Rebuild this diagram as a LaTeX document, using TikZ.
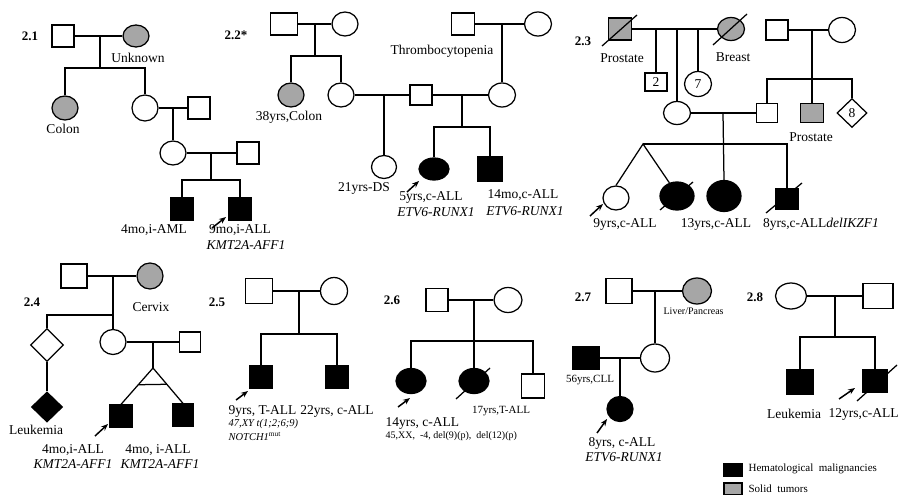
\documentclass[tikz,border=0pt]{standalone}
\usepackage{fontspec}
\setmainfont{Liberation Serif}
\usetikzlibrary{shapes.geometric,arrows.meta,calc}
\definecolor{solidgray}{RGB}{166,166,166}
\begin{document}
\begin{tikzpicture}[x=1pt,y=-1pt,line width=1.25pt,
  male/.style={draw,rectangle,inner sep=0pt,minimum width=22pt,minimum height=22pt},
  fem/.style={draw,ellipse,inner sep=0pt,minimum width=26pt,minimum height=24pt},
  dia/.style={draw,diamond,inner sep=0pt,minimum width=32pt,minimum height=32pt},
  hem/.style={fill=black},
  sol/.style={fill=solidgray},
  lab/.style={inner sep=0pt,font=\fontsize{13.5}{15}\selectfont},
  labi/.style={inner sep=0pt,font=\itshape\fontsize{13.5}{15}\selectfont},
  small/.style={inner sep=0pt,font=\fontsize{10.5}{12}\selectfont},
  smalli/.style={inner sep=0pt,font=\itshape\fontsize{10.5}{12}\selectfont},
  fam/.style={inner sep=0pt,font=\bfseries\fontsize{13}{15}\selectfont},
  prob/.style={-{Stealth[length=7pt,width=5.5pt]},line width=1.5pt}]
\useasboundingbox (0,0) rectangle (900,495);

% ---------------- 2.1
\node[fam] (f1) at (30,36) {2.1};
\node[male] (s11) at (63,36) {};
\node[fem,sol,minimum height=22pt] (c11) at (136,36) {};
\node[lab] (l11) at (138,58) {Unknown};
\draw (s11) -- (c11);
\coordinate (m11) at (100,36);
\coordinate (t11) at (100,68);
\draw (m11) -- (t11);
\node[fem,sol] (d11) at (65,108) {};
\node[fem,minimum height=26pt] (d12) at (145,108) {};
\draw (d11.north) |- (t11) -| (d12.north);
\node[lab] (l12) at (63,129) {Colon};
\node[male] (s12) at (199,108) {};
\draw (d12) -- (s12);
\node[fem] (d13) at (173,153) {};
\coordinate (m12) at (173,108);
\draw (m12) -- (d13.north);
\node[male] (s13) at (248,153) {};
\draw (d13) -- (s13);
\coordinate (m13) at (211,153);
\coordinate (t13) at (211,180);
\draw (m13) -- (t13);
\node[male,hem] (k11) at (182,209) {};
\node[male,hem] (k12) at (240,209) {};
\draw (k11.north) |- (t13) -| (k12.north);
\node[lab] (l13) at (154,230) {4mo,i-AML};
\node[lab] (l14) at (240,230) {9mo,i-ALL};
\node[labi] (l15) at (246,245) {KMT2A-AFF1};
\draw[prob] ([shift={(-28,19)}]k12.center) -- ([shift={(-14,8)}]k12.center);

% ---------------- 2.2
\node[fam] (f2) at (236,35) {2.2*};
\node[male,minimum width=27pt] (s21) at (284,24) {};
\node[fem] (c21) at (345,24) {};
\draw (s21) -- (c21);
\coordinate (m21) at (315,24);
\coordinate (t21) at (315,56);
\draw (m21) -- (t21);
\node[fem,sol] (d21) at (291,95) {};
\node[fem] (d22) at (341,95) {};
\draw (d21.north) |- (t21) -| (d22.north);
\node[lab] (l21) at (289,117) {38yrs,Colon};
\node[male,minimum width=22pt,minimum height=20pt] (s22) at (421,95) {};
\draw (d22) -- (s22);
\coordinate (m22) at (384,95);
\node[fem,minimum width=25pt,minimum height=23pt] (d23) at (384,167) {};
\draw (m22) -- (d23.north);
\node[lab] (l22) at (364,188) {21yrs-DS};
\node[male,minimum width=23pt] (s23) at (463,24) {};
\node[fem,minimum width=27pt] (c23) at (538,24) {};
\draw (s23) -- (c23);
\node[lab] (l23) at (442,51) {Thrombocytopenia};
\coordinate (m23) at (502,24);
\node[fem,minimum width=27pt] (d24) at (502,95) {};
\draw (m23) -- (d24.north);
\draw (s22) -- (d24);
\coordinate (m24) at (462,95);
\coordinate (t24) at (462,127);
\draw (m24) -- (t24);
\node[fem,hem,minimum width=30pt,minimum height=22pt] (k21) at (434,169) {};
\node[male,hem,minimum width=24pt,minimum height=25pt] (k22) at (490,169) {};
\draw (k21.north) |- (t24) -| (k22.north);
\node[lab] (l24) at (431,197) {5yrs,c-ALL};
\node[labi] (l25) at (436,212) {ETV6-RUNX1};
\node[lab] (l26) at (523,195) {14mo,c-ALL};
\node[labi] (l27) at (525,211) {ETV6-RUNX1};
\draw[prob] ([shift={(-27,23)}]k21.center) -- ([shift={(-15,12)}]k21.center);

% ---------------- 2.3
\node[fam] (f3) at (583,41) {2.3};
\node[male,sol,minimum width=23pt] (s31) at (620,29) {};
\draw ([shift={(-18,17)}]s31.center) -- ([shift={(17,-14)}]s31.center);
\node[lab] (l31) at (622,58) {Prostate};
\node[fem,sol,minimum width=27pt,minimum height=23pt] (c31) at (731,29) {};
\draw ([shift={(-18,16)}]c31.center) -- ([shift={(16,-15)}]c31.center);
\node[lab] (l32) at (733,57) {Breast};
\draw (s31) -- (c31);
\node[male,minimum width=22pt,minimum height=18pt,lab] (s32) at (656,82) {2};
\draw (s32.north) -- (656,29);
\node[fem,minimum width=27pt,minimum height=23pt] (d32) at (677,113) {};
\draw (d32.north) -- (677,29);
\node[fem,minimum width=27pt,minimum height=25pt,lab] (c32) at (698,84) {7};
\draw (c32.north) -- (698,29);
\node[male,minimum width=22pt,minimum height=20pt] (s33) at (777,30) {};
\node[fem,minimum width=27pt,minimum height=25pt] (c33) at (842,30) {};
\draw (s33) -- (c33);
\coordinate (m33) at (812,30);
\coordinate (t33) at (812,79);
\draw (m33) -- (t33);
\node[male,minimum width=21pt,minimum height=19pt] (s34) at (767,113) {};
\node[male,sol,minimum width=23pt,minimum height=19pt] (s35) at (812,113) {};
\node[dia,minimum width=30pt,minimum height=29pt,lab] (x31) at (852,113) {8};
\draw (s34.north) |- (t33) -| (x31.north);
\draw (t33) -- (s35.north);
\node[lab] (l33) at (811,137) {Prostate};
\draw (d32) -- (s34);
\coordinate (m32) at (723,113);
\node[fem,hem,minimum width=34pt,minimum height=31pt] (k33) at (724,196) {};
\draw (m32) -- (k33.north);
\coordinate (t31) at (643,144);
\node[male,hem,minimum width=23pt,minimum height=21pt] (k34) at (787,199) {};
\draw (t31) -| (k34.north);
\draw ([shift={(-21,14)}]k34.center) -- ([shift={(15,-16)}]k34.center);
\node[fem] (k31) at (616,198) {};
\node[fem,hem,minimum width=34pt,minimum height=28pt] (k32) at (677,196) {};
\draw (k31.north) -- (t31) -- (k32.120);
\draw ([shift={(-17,14)}]k32.center) -- ([shift={(16,-14)}]k32.center);
\node[lab] (l34) at (625,224) {9yrs,c-ALL};
\node[lab] (l35) at (716,224) {13yrs,c-ALL};
\node[lab] (l36) at (821,224) {8yrs,c-ALL\textit{delIKZF1}};
\draw[prob] ([shift={(-26,18)}]k31.center) -- ([shift={(-13,6)}]k31.center);

% ---------------- 2.4
\node[fam] (f4) at (32,302) {2.4};
\node[male,minimum width=26pt,minimum height=24pt] (s41) at (74,276) {};
\node[fem,sol,minimum height=26pt] (c41) at (150,276) {};
\draw (s41) -- (c41);
\node[lab] (l41) at (151,307) {Cervix};
\coordinate (m41) at (113,276);
\coordinate (t41) at (113,315);
\node[fem,minimum height=25pt] (d41) at (113,342) {};
\draw (m41) -- (d41.north);
\node[dia,minimum width=33pt,minimum height=33pt] (d42) at (47,345) {};
\draw (d42.north) |- (t41);
\node[dia,hem,minimum width=31pt,minimum height=30pt] (k41) at (47,407) {};
\draw (d42.south) -- (k41.north);
\node[lab] (l42) at (36,430) {Leukemia};
\node[male,minimum width=21pt,minimum height=20pt] (s42) at (190,342) {};
\draw (d41) -- (s42);
\coordinate (m42) at (153,342);
\coordinate (ap) at (153,368);
\draw (m42) -- (ap);
\node[male,hem] (k42) at (121,416) {};
\node[male,hem,minimum width=21pt] (k43) at (183,415) {};
\draw (k42.north) -- (ap) -- (k43.north);
\draw ($(ap)!0.46!(k42.north)$) -- ($(ap)!0.46!(k43.north)$);
\draw[prob] ([shift={(-26,20)}]k42.center) -- ([shift={(-13,8)}]k42.center);
\node[lab] (l43) at (73,450) {4mo,i-ALL};
\node[labi] (l44) at (73,464) {KMT2A-AFF1};
\node[lab] (l45) at (158,450) {4mo, i-ALL};
\node[labi] (l46) at (160,464) {KMT2A-AFF1};

% ---------------- 2.5
\node[fam] (f5) at (217,302) {2.5};
\node[male,minimum width=27pt,minimum height=25pt] (s51) at (259,291) {};
\node[fem,minimum width=27pt,minimum height=27pt] (c51) at (334,291) {};
\draw (s51) -- (c51);
\coordinate (m51) at (299,291);
\coordinate (t51) at (299,334);
\draw (m51) -- (t51);
\node[male,hem,minimum width=23pt] (k51) at (261,377) {};
\node[male,hem] (k52) at (337,377) {};
\draw (k51.north) |- (t51) -| (k52.north);
\draw[prob] ([shift={(-25,23)}]k51.center) -- ([shift={(-13,14)}]k51.center);
\node[lab,anchor=west] (l51) at (228,411) {9yrs, T-ALL};
\node[smalli,anchor=west] (l52) at (228,424) {47,XY t(1;2;6;9)};
\node[smalli,anchor=west] (l53) at (228,436) {NOTCH1\textsuperscript{\upshape mut}};
\node[lab] (l54) at (337,411) {22yrs, c-ALL};

% ---------------- 2.6
\node[fam] (f6) at (392,300) {2.6};
\node[male,minimum height=23pt] (s61) at (437,300) {};
\node[fem,minimum width=28pt,minimum height=25pt] (c61) at (508,300) {};
\draw (s61) -- (c61);
\coordinate (m61) at (474,300);
\coordinate (t61) at (474,341);
\draw (m61) -- (t61);
\node[fem,hem,minimum width=30pt,minimum height=25pt] (k61) at (411,381) {};
\node[fem,hem,minimum width=30pt,minimum height=25pt] (k62) at (474,381) {};
\node[male,minimum width=23pt,minimum height=24pt] (s62) at (533,386) {};
\draw (k61.north) |- (t61) -| (s62.north);
\draw (t61) -- (k62.north);
\draw ([shift={(-18,18)}]k62.center) -- ([shift={(16,-13)}]k62.center);
\draw[prob] ([shift={(-13,26)}]k61.center) -- ([shift={(-1,17)}]k61.center);
\node[small,font=\fontsize{11}{13}\selectfont] (l61) at (501,411) {17yrs,T-ALL};
\node[lab,anchor=west,font=\fontsize{13.5}{15}\selectfont] (l62) at (385,423) {14yrs, c-ALL};
\node[small,anchor=west,font=\fontsize{10}{12}\selectfont] (l63) at (385,436) {45,XX, \ -4, del(9)(p), \ del(12)(p)};

% ---------------- 2.7
\node[fam] (f7) at (583,297) {2.7};
\node[male,minimum width=26pt,minimum height=25pt] (s71) at (619,291) {};
\node[fem,sol,minimum width=29pt,minimum height=26pt] (c71) at (697,291) {};
\draw (s71) -- (c71);
\node[small,font=\fontsize{10}{12}\selectfont,anchor=west] (l71) at (663,311) {Liver/Pancreas};
\coordinate (m71) at (655,291);
\node[fem,minimum width=29pt,minimum height=28pt] (d71) at (655,358) {};
\draw (m71) -- (d71.north);
\node[male,hem,minimum width=26pt,minimum height=23pt] (k71) at (586,358) {};
\draw (k71) -- (d71);
\node[small,font=\fontsize{11}{13}\selectfont] (l72) at (590,380) {56yrs,CLL};
\coordinate (m72) at (620,358);
\node[fem,hem,minimum width=26pt,minimum height=25pt] (k72) at (620,409) {};
\draw (m72) -- (k72.north);
\draw[prob] ([shift={(-23,24)}]k72.center) -- ([shift={(-13,10)}]k72.center);
\node[lab] (l73) at (622,443) {8yrs, c-ALL};
\node[labi] (l74) at (624,457) {ETV6-RUNX1};

% ---------------- 2.8
\node[fam] (f8) at (755,297) {2.8};
\node[fem,minimum width=31pt,minimum height=26pt] (c81) at (791,296) {};
\node[male,minimum width=30pt,minimum height=25pt] (s81) at (878,296) {};
\draw (c81) -- (s81);
\coordinate (m81) at (835,296);
\coordinate (t81) at (835,337);
\draw (m81) -- (t81);
\node[male,hem,minimum width=26pt,minimum height=24pt] (k81) at (800,382) {};
\node[male,hem,minimum width=24pt,minimum height=23pt] (k82) at (875,381) {};
\draw (k81.north) |- (t81) -| (k82.north);
\draw ([shift={(-18,20)}]k82.center) -- ([shift={(22,-16)}]k82.center);
\draw[prob] ([shift={(-36,18)}]k82.center) -- ([shift={(-20,7)}]k82.center);
\node[lab] (l81) at (794,414) {Leukemia};
\node[lab,anchor=west] (l82) at (828,414) {12yrs,c-ALL};

% ---------------- legend
\node[draw,hem,inner sep=0pt,minimum width=18pt,minimum height=13pt] (g1) at (733,470) {};
\node[small,font=\fontsize{11}{13}\selectfont,anchor=west] (g1t) at (748,469) {Hematological \ malignancies};
\node[draw,sol,inner sep=0pt,minimum width=18pt,minimum height=12pt] (g2) at (733,489) {};
\node[small,font=\fontsize{11}{13}\selectfont,anchor=west] (g2t) at (748,489) {Solid \ tumors};
\end{tikzpicture}
\end{document}
